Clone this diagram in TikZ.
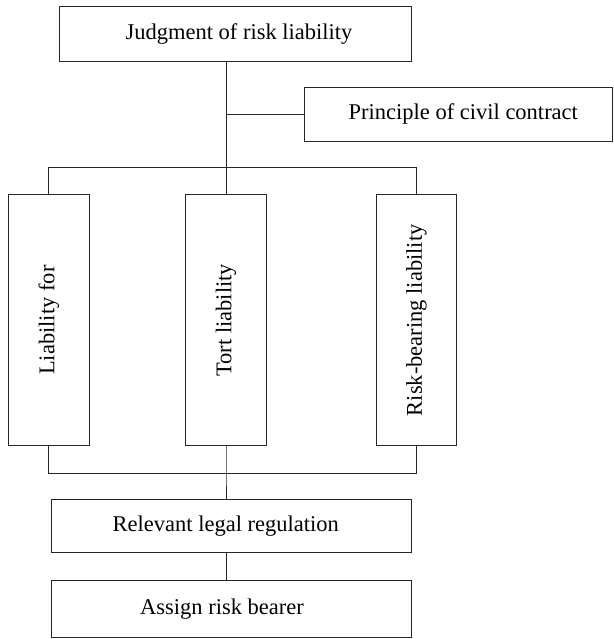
\documentclass[tikz,border=0pt]{standalone}
\usepackage{fontspec}
\setmainfont{Liberation Serif}
\begin{document}
\begin{tikzpicture}[x=1pt,y=1pt,
  box/.style={draw=black!85,line width=0.9pt,inner sep=0pt,anchor=center,
    font=\fontsize{22.5}{27}\selectfont},
  vbox/.style={box,minimum width=80.5pt,minimum height=251pt},
  link/.style={draw=black!85,line width=0.9pt}]
\useasboundingbox (0,0) rectangle (613,-639);
\node[box,minimum width=352pt,minimum height=55pt] (top) at (235,-34) {\hspace*{8pt}Judgment of risk liability};
\node[box,minimum width=308pt,minimum height=54pt] (prin) at (458.3,-114) {\hspace*{10pt}Principle of civil contract};
\node[vbox] (left) at (48.9,-320.2) {\rotatebox{90}{Liability for}};
\node[vbox] (mid) at (226,-320.2) {\rotatebox{90}{Tort liability}};
\node[vbox] (right) at (416.5,-320.2) {\rotatebox{90}{Risk-bearing liability}};
\node[box,minimum width=360pt,minimum height=53pt] (rel) at (231,-526.3) {Relevant legal regulation\hspace*{10.5pt}};
\node[box,minimum width=360pt,minimum height=57.5pt] (asg) at (231,-608.75) {Assign risk bearer\hspace*{18pt}};
\coordinate (busT) at (226,-167);
\coordinate (busB) at (226,-473.5);
\draw[link] (top.south -| busT) -- (busT);
\draw[link] (busT |- prin.west) -- (prin.west);
\draw[link] (left.north) -- (left.north |- busT) -- (right.north |- busT) -- (right.north);
\draw[link] (busT) -- (mid.north);
\draw[link] (left.south) -- (left.south |- busB) -- (right.south |- busB) -- (right.south);
\draw[link] (mid.south) -- (busB) -- (rel.north -| busB);
\draw[link] (rel.south -| busB) -- (asg.north -| busB);
\end{tikzpicture}
\end{document}
